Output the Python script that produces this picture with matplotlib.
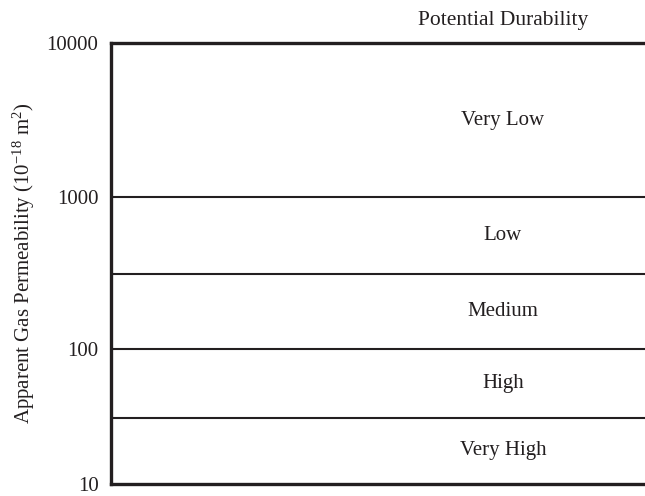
import matplotlib
matplotlib.use("Agg")
import matplotlib.pyplot as plt
import numpy as np

plt.rcParams["font.family"] = ["Liberation Serif", "DejaVu Serif"]
plt.rcParams["mathtext.fontset"] = "custom"
plt.rcParams["mathtext.rm"] = "Liberation Serif"
plt.rcParams["mathtext.it"] = "Liberation Serif:italic"

# Durability classes and their permeability band limits
classes = ["Very High", "High", "Medium", "Low", "Very Low"]
band_lower = [10, 30, 100, 300, 1000]
band_upper = [30, 100, 300, 1000, 10000]
y_ticks = [10, 100, 1000, 10000]
y_tick_labels = ["10", "100", "1000", "10000"]

ink = "#231f20"

# Schematic logarithmic axis: each band boundary gets its own share of height,
# with the lowest decade drawn a little shorter than the others.
_log_knots = np.log10([10, 30, 100, 300, 1000, 10000])
_pos_knots = np.array([0.0, 66.0, 135.0, 210.0, 286.0, 440.0]) / 440.0


def _forward(v):
    v = np.clip(np.asarray(v, dtype=float), 1e-12, None)
    return np.interp(np.log10(v), _log_knots, _pos_knots,
                     left=-1.0, right=2.0)


def _inverse(p):
    return 10 ** np.interp(np.asarray(p, dtype=float), _pos_knots, _log_knots)


fig = plt.figure(figsize=(6.45, 4.96), dpi=100)
ax = fig.add_axes([111 / 645, 1 - 484 / 496, 1 - 111 / 645, (484 - 43) / 496])

ax.set_yscale("function", functions=(_forward, _inverse))
ax.set_ylim(band_lower[0], band_upper[-1])
ax.set_xlim(0, 1)

# internal band boundaries
for lo in band_lower[1:]:
    ax.axhline(lo, color=ink, lw=1.5)

# class names in the middle of each band
for name, lo, hi in zip(classes, band_lower, band_upper):
    mid = _inverse((_forward(lo) + _forward(hi)) / 2)
    ax.text(0.734, mid, name, ha="center", va="center",
            fontsize=15, color=ink)

ax.text(0.734, 1.05, "Potential Durability", transform=ax.transAxes,
        ha="center", va="center", fontsize=15.5, color=ink)

ax.set_yticks(y_ticks)
ax.set_yticklabels(y_tick_labels)
ax.yaxis.set_minor_locator(matplotlib.ticker.NullLocator())
ax.tick_params(axis="y", length=0, pad=9, labelsize=15, labelcolor=ink)
ax.set_xticks([])

for side in ("left", "top", "bottom"):
    ax.spines[side].set_linewidth(2.4)
    ax.spines[side].set_color(ink)
ax.spines["right"].set_visible(False)

ax.set_ylabel(r"Apparent Gas Permeability (10$^{-18}$ m$^{2}$)",
              fontsize=15, color=ink, labelpad=7)

fig.savefig("out.png", dpi=100)
